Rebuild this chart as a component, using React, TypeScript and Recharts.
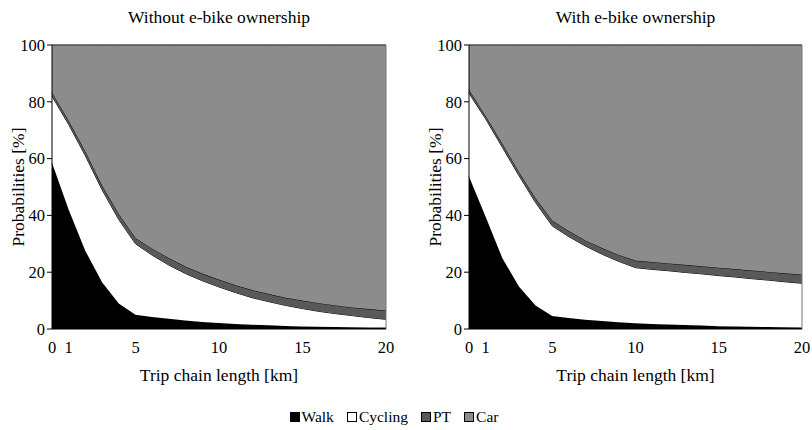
import React from 'react';
import { Area, AreaChart, XAxis, YAxis, ReferenceLine } from 'recharts';

// trip chain length [km]
const km = [0, 1, 2, 3, 4, 5, 6, 7, 8, 9, 10, 11, 12, 13, 14, 15, 16, 17, 18, 19, 20];

// without e-bike ownership [%]
const walkNo = [58.5, 42, 27.5, 16.5, 9, 5, 4.2, 3.6, 3, 2.5, 2.1, 1.8, 1.5, 1.3, 1.1, 0.9, 0.8, 0.7, 0.6, 0.5, 0.5];
const cyclingNo = [23.5, 30, 33.5, 32.5, 29.5, 25, 21.8, 18.9, 16.5, 14.5, 12.7, 11, 9.5, 8.3, 7.2, 6.3, 5.4, 4.7, 4.1, 3.5, 2.9];
const ptNo = [1.3, 1.3, 1.5, 1.5, 2, 2, 2.3, 2.5, 2.5, 2.5, 2.6, 2.6, 2.7, 2.7, 2.7, 2.8, 2.9, 2.9, 2.9, 3, 3.1];
const carNo = [16.7, 26.7, 37.5, 49.5, 59.5, 68, 71.7, 75, 78, 80.5, 82.6, 84.6, 86.3, 87.7, 89, 90, 90.9, 91.7, 92.4, 93, 93.5];

// with e-bike ownership [%]
const walkYes = [53.7, 39.5, 25, 15, 8.3, 4.6, 3.9, 3.3, 2.8, 2.4, 2, 1.8, 1.6, 1.4, 1.2, 1, 0.9, 0.8, 0.7, 0.6, 0.5];
const cyclingYes = [29.3, 34.5, 39, 39, 36.2, 31.7, 28.6, 25.9, 23.5, 21.4, 19.6, 19.2, 18.9, 18.5, 18.2, 17.8, 17.4, 16.9, 16.5, 16, 15.6];
const ptYes = [1.2, 1, 1.3, 1.3, 1.5, 1.9, 2, 2, 2.2, 2.3, 2.5, 2.6, 2.6, 2.7, 2.7, 2.8, 2.8, 2.9, 2.9, 3, 3.1];
const carYes = [15.8, 25, 34.7, 44.7, 54, 61.8, 65.5, 68.8, 71.5, 73.9, 75.9, 76.4, 76.9, 77.4, 77.9, 78.4, 78.9, 79.4, 79.9, 80.4, 80.8];

const xTicks = [0, 1, 5, 10, 15, 20];
const yTicks = [0, 20, 40, 60, 80, 100];

const modes = [
    { key: 'walk', name: 'Walk', color: '#000000' },
    { key: 'cycling', name: 'Cycling', color: '#ffffff' },
    { key: 'pt', name: 'PT', color: '#595959' },
    { key: 'car', name: 'Car', color: '#8c8c8c' },
];

const font = '"Liberation Serif", serif';

function buildRows(walk: number[], cycling: number[], pt: number[], car: number[]) {
    return km.map((k, i) => ({ km: k, walk: walk[i], cycling: cycling[i], pt: pt[i], car: car[i] }));
}

interface PanelProps {
    title: string;
    rows: Array<Record<string, number>>;
    left: number;
    width: number;
    rightMargin: number;
}

function Panel({ title, rows, left, width, rightMargin }: PanelProps) {
    const plotLeft = 52;
    const plotCenter = plotLeft + (width - plotLeft - rightMargin) / 2;
    return (
        <div style={{ position: 'absolute', left, top: 0, width, height: 400 }}>
            <div style={{ position: 'absolute', top: 7, left: plotCenter - 150, width: 300, textAlign: 'center', fontSize: 17.5 }}>
                {title}
            </div>
            <div
                style={{
                    position: 'absolute', left: 18, top: 187, width: 200, marginLeft: -100, marginTop: -10,
                    textAlign: 'center', fontSize: 17.5, transform: 'rotate(-90deg)', lineHeight: '20px',
                }}
            >
                Probabilities [%]
            </div>
            <div style={{ position: 'absolute', top: 365, left: plotCenter - 150, width: 300, textAlign: 'center', fontSize: 17.5 }}>
                Trip chain length [km]
            </div>
            <div style={{ position: 'absolute', left: 0, top: 0 }}>
                <AreaChart width={width} height={370} data={rows} margin={{ top: 45, right: rightMargin, bottom: 0, left: 12 }}>
                    <XAxis
                        dataKey="km"
                        type="number"
                        domain={[0, 20]}
                        ticks={xTicks}
                        tickLine={false}
                        tickSize={10}
                        tickMargin={2}
                        height={41}
                        stroke="#000"
                        tick={{ fill: '#000', fontSize: 16.5, fontFamily: font }}
                    />
                    <YAxis
                        type="number"
                        domain={[0, 100]}
                        ticks={yTicks}
                        width={40}
                        tickSize={5}
                        tickMargin={2}
                        stroke="#000"
                        tick={{ fill: '#000', fontSize: 16.5, fontFamily: font }}
                    />
                    {modes.map((m) => (
                        <Area
                            key={m.key}
                            type="linear"
                            dataKey={m.key}
                            stackId="1"
                            stroke="#000"
                            strokeWidth={1}
                            fill={m.color}
                            fillOpacity={1}
                            isAnimationActive={false}
                        />
                    ))}
                    <ReferenceLine x={20} stroke="#777" />
                    <ReferenceLine y={100} stroke="#777" />
                </AreaChart>
            </div>
        </div>
    );
}

export default function App() {
    const rowsNo = buildRows(walkNo, cyclingNo, ptNo, carNo);
    const rowsYes = buildRows(walkYes, cyclingYes, ptYes, carYes);
    return (
        <div style={{ position: 'absolute', left: 0, top: 0, width: 812, height: 430, background: '#fff', fontFamily: font, color: '#000' }}>
            <Panel title="Without e-bike ownership" rows={rowsNo} left={0} width={406} rightMargin={20} />
            <Panel title="With e-bike ownership" rows={rowsYes} left={417} width={395} rightMargin={10} />
            <div
                style={{
                    position: 'absolute', top: 408, left: -12, width: 812, display: 'flex', justifyContent: 'center',
                    fontSize: 15.5, lineHeight: '18px',
                }}
            >
                {modes.map((m, i) => (
                    <div key={m.key} style={{ display: 'flex', alignItems: 'center', marginRight: i < modes.length - 1 ? 13 : 0 }}>
                        <span
                            style={{
                                display: 'inline-block', width: 8, height: 8, border: '1px solid #000',
                                background: m.color, marginRight: 2,
                            }}
                        />
                        <span>{m.name}</span>
                    </div>
                ))}
            </div>
        </div>
    );
}
